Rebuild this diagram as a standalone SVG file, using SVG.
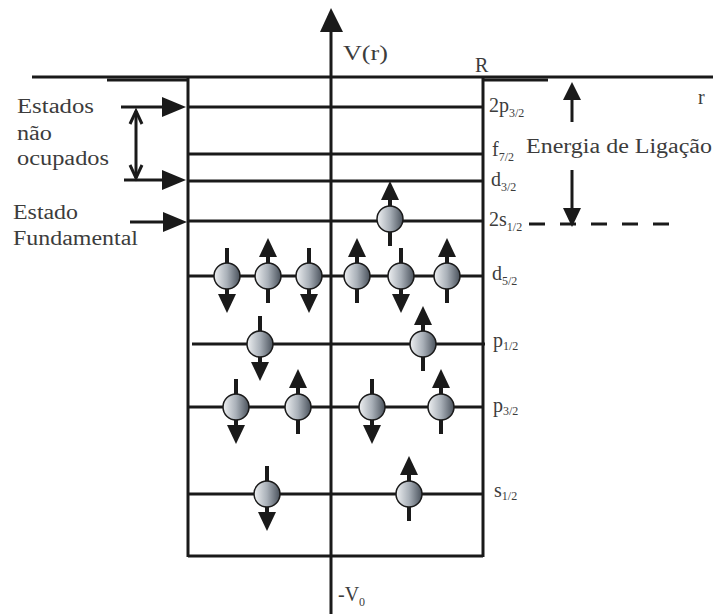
<svg xmlns="http://www.w3.org/2000/svg" width="713" height="614" viewBox="0 0 713 614">
<defs>
<linearGradient id="g" x1="0" y1="0" x2="1" y2="0">
<stop offset="0" stop-color="#eef0f2"/>
<stop offset="0.5" stop-color="#a9b0b8"/>
<stop offset="1" stop-color="#4a525c"/>
</linearGradient>
<g id="up">
<line x1="0" y1="-22" x2="0" y2="27" stroke="#1a1a1a" stroke-width="4"/>
<polygon points="0,-38 -9,-19 9,-19" fill="#1a1a1a"/>
<circle r="13" fill="url(#g)" stroke="#1a1a1a" stroke-width="1.5"/>
</g>
<g id="down">
<line x1="0" y1="-28" x2="0" y2="22" stroke="#1a1a1a" stroke-width="4"/>
<polygon points="0,37 -9,18 9,18" fill="#1a1a1a"/>
<circle r="13" fill="url(#g)" stroke="#1a1a1a" stroke-width="1.5"/>
</g>
</defs>
<style>
.ln{stroke:#1a1a1a;stroke-width:3;fill:none}
.ar{fill:#1a1a1a}
</style>
<rect width="713" height="614" fill="#fff"/>
<g id="connectors">
<line class="ln" x1="32" y1="77" x2="713" y2="77" stroke-width="4"/>
<line class="ln" x1="107" y1="80" x2="188" y2="80" stroke-width="4"/>
<line class="ln" x1="483" y1="80" x2="548" y2="80" stroke-width="4"/>
<line class="ln" x1="331" y1="28" x2="331" y2="614" stroke-width="4"/>
<polygon class="ar" points="331,8 320,32 343,32"/>
<line class="ln" x1="188" y1="77" x2="188" y2="557"/>
<line class="ln" x1="483" y1="77" x2="483" y2="557"/>
<line class="ln" x1="188" y1="556" x2="483" y2="556"/>
<line class="ln" x1="188" y1="107" x2="483" y2="107"/>
<line class="ln" x1="188" y1="154" x2="483" y2="154"/>
<line class="ln" x1="188" y1="181" x2="483" y2="181"/>
<line class="ln" x1="188" y1="221" x2="483" y2="221"/>
<line class="ln" x1="188" y1="276" x2="483" y2="276"/>
<line class="ln" x1="192" y1="344" x2="485" y2="344"/>
<line class="ln" x1="188" y1="407" x2="483" y2="407"/>
<line class="ln" x1="188" y1="494" x2="483" y2="494"/>
<line class="ln" x1="121" y1="107" x2="165" y2="107" stroke-width="4"/>
<polygon class="ar" points="186,107 162,97 162,117"/>
<line class="ln" x1="124" y1="180" x2="165" y2="180" stroke-width="4"/>
<polygon class="ar" points="186,180 162,170 162,190"/>
<line class="ln" x1="130" y1="222" x2="165" y2="222" stroke-width="4"/>
<polygon class="ar" points="187,222 163,212 163,232"/>
<line class="ln" x1="136" y1="111" x2="136" y2="178" stroke-width="2"/>
<polyline class="ln" points="130,124 136,111 142,124" stroke-width="2"/>
<polyline class="ln" points="130,165 136,178 142,165" stroke-width="2"/>
<line class="ln" x1="572" y1="98" x2="572" y2="122" stroke-width="4"/>
<polygon class="ar" points="572,82 563,100 581,100"/>
<line class="ln" x1="572" y1="170" x2="572" y2="210" stroke-width="4"/>
<polygon class="ar" points="572,227 563,208 581,208"/>
<line class="ln" x1="529" y1="224" x2="671" y2="224" stroke-width="4" stroke-dasharray="16,15"/>
</g>
<g id="electrons">
<use href="#up" x="390" y="219"/>
<use href="#down" x="227" y="276"/>
<use href="#up" x="268" y="276"/>
<use href="#down" x="309" y="276"/>
<use href="#up" x="357" y="276"/>
<use href="#down" x="401" y="276"/>
<use href="#up" x="447" y="276"/>
<use href="#down" x="260" y="344"/>
<use href="#up" x="423" y="344"/>
<use href="#down" x="236" y="407"/>
<use href="#up" x="298" y="407"/>
<use href="#down" x="372" y="407"/>
<use href="#up" x="441" y="407"/>
<use href="#down" x="267" y="494"/>
<use href="#up" x="409" y="494"/>
</g>
<g id="labels" font-family="'Liberation Serif', 'Times New Roman', serif" font-size="20" fill="#3c3c3c">
<text x="343" y="60" textLength="45" lengthAdjust="spacingAndGlyphs">V(r)</text>
<text x="475" y="72">R</text>
<text x="698" y="104">r</text>
<text x="338" y="601">-V<tspan font-size="12" dy="5">0</tspan></text>
<text x="17" y="113" textLength="77" lengthAdjust="spacingAndGlyphs">Estados</text>
<text x="17" y="140" textLength="35" lengthAdjust="spacingAndGlyphs">não</text>
<text x="17" y="165" textLength="92" lengthAdjust="spacingAndGlyphs">ocupados</text>
<text x="13" y="219" textLength="65" lengthAdjust="spacingAndGlyphs">Estado</text>
<text x="13" y="245" textLength="125" lengthAdjust="spacingAndGlyphs">Fundamental</text>
<text x="526" y="153" textLength="186" lengthAdjust="spacingAndGlyphs">Energia de Ligação</text>
<text x="489" y="112">2p<tspan font-size="12" dy="5">3/2</tspan></text>
<text x="492" y="156">f<tspan font-size="12" dy="5">7/2</tspan></text>
<text x="491" y="186">d<tspan font-size="12" dy="5">3/2</tspan></text>
<text x="489" y="226">2s<tspan font-size="12" dy="5">1/2</tspan></text>
<text x="492" y="280">d<tspan font-size="12" dy="5">5/2</tspan></text>
<text x="493" y="347">p<tspan font-size="12" dy="3">1/2</tspan></text>
<text x="493" y="412">p<tspan font-size="12" dy="3">3/2</tspan></text>
<text x="494" y="497">s<tspan font-size="12" dy="3">1/2</tspan></text>
</g>
</svg>
